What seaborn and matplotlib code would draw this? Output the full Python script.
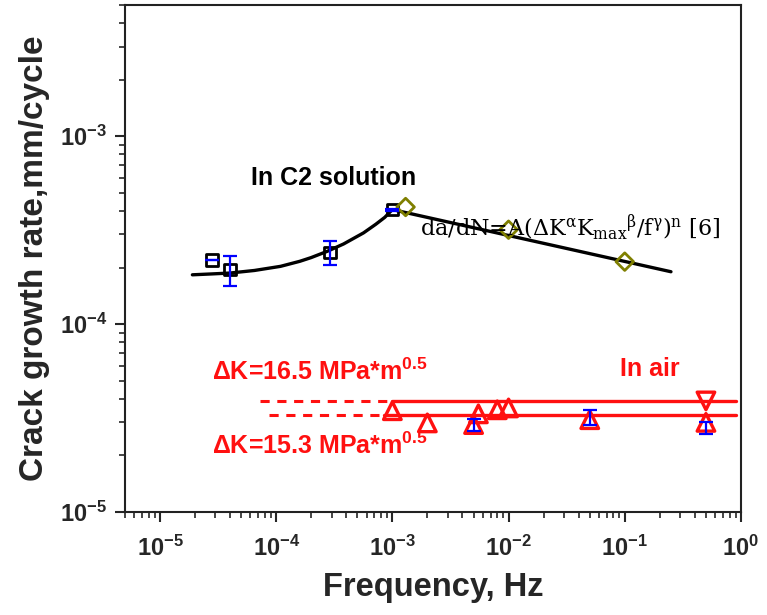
import numpy as np
import pandas as pd
import matplotlib
matplotlib.use("Agg")
import matplotlib.pyplot as plt
import seaborn as sns
from matplotlib.ticker import LogLocator, FuncFormatter, NullFormatter

# ---------------- data ----------------
# In C2 solution: squares (low frequency)
sq_f = [2.8e-5, 4.0e-5, 2.9e-4, 1.0e-3]
sq_r = [2.2e-4, 1.95e-4, 2.4e-4, 4.07e-4]
sq_err_lo = [0.0, 0.35e-4, 0.33e-4, 0.05e-4]
sq_err_hi = [0.0, 0.36e-4, 0.38e-4, 0.05e-4]

# In C2 solution: diamonds (high frequency)
dm_f = [1.3e-3, 1.0e-2, 1.0e-1]
dm_r = [4.2e-4, 3.18e-4, 2.15e-4]

# fitted curve da/dN=A(...)
fit_f = [1.9e-5, 2.8e-5, 4.0e-5, 6.5e-5, 1.09e-4, 1.6e-4, 2.0e-4, 2.75e-4,
         3.8e-4, 5.65e-4, 7.2e-4, 8.6e-4, 1.0e-3, 0.25]
fit_r = [1.83e-4, 1.85e-4, 1.87e-4, 1.93e-4, 2.03e-4, 2.16e-4, 2.26e-4, 2.44e-4,
         2.67e-4, 3.06e-4, 3.4e-4, 3.7e-4, 4.07e-4, 1.9e-4]

# In air: up triangles
tri_f = [1.0e-3, 2.0e-3, 5.0e-3, 5.5e-3, 8.0e-3, 1.0e-2, 5.0e-2, 0.5]
tri_r = [3.46e-5, 2.98e-5, 2.92e-5, 3.33e-5, 3.5e-5, 3.58e-5, 3.1e-5, 3.0e-5]

# In air: down triangle
dtri_f = [0.5]
dtri_r = [3.9e-5]

# error bars in air
air_err_f = [5.0e-3, 5.0e-2, 0.5]
air_err_r = [2.92e-5, 3.1e-5, 3.0e-5]
air_err_lo = [0.22e-5, 0.2e-5, 0.4e-5]
air_err_hi = [0.22e-5, 0.4e-5, 0.0]

# air reference lines (dK=16.5 upper, dK=15.3 lower)
up_solid_f = [1.0e-3, 0.9]
up_r = 3.88e-5
up_dash_f = [7.3e-5, 1.0e-3]
lo_solid_f = [8.4e-4, 0.9]
lo_r = 3.27e-5
lo_dash_f = [8.6e-5, 8.4e-4]

x_ticks = [1e-5, 1e-4, 1e-3, 1e-2, 1e-1, 1e0]
y_ticks = [1e-5, 1e-4, 1e-3]

# ---------------- style ----------------
sns.set_style("ticks")
plt.rcParams["font.family"] = ["Liberation Sans", "DejaVu Sans"]
plt.rcParams["mathtext.fontset"] = "custom"
plt.rcParams["mathtext.rm"] = "Liberation Sans:bold"
plt.rcParams["mathtext.bf"] = "Liberation Sans:bold"
plt.rcParams["mathtext.it"] = "Liberation Sans:bold"
plt.rcParams["mathtext.default"] = "bf"

RED = "#ff1010"
BLUE = "#0000ff"
OLIVE = "#7f7f00"

fig = plt.figure(figsize=(7.67, 6.15), dpi=100)
ax = fig.add_axes([0.163, 0.1675, 0.803, 0.8245])
ax.set_xscale("log")
ax.set_yscale("log")

# fitted curve
sns.lineplot(x=fit_f, y=fit_r, ax=ax, color="black", lw=2.4, sort=False, zorder=2)

# air lines
sns.lineplot(x=up_solid_f, y=[up_r, up_r], ax=ax, color=RED, lw=2.4, zorder=2)
sns.lineplot(x=lo_solid_f, y=[lo_r, lo_r], ax=ax, color=RED, lw=2.4, zorder=2)
sns.lineplot(x=up_dash_f, y=[up_r, up_r], ax=ax, color=RED, lw=2.2, ls=(0, (3, 2.5)), zorder=2)
sns.lineplot(x=lo_dash_f, y=[lo_r, lo_r], ax=ax, color=RED, lw=2.2, ls=(0, (3, 2.5)), zorder=2)

# markers
sns.scatterplot(x=sq_f, y=sq_r, ax=ax, marker="s", s=70, facecolor="none",
                edgecolor="black", linewidth=2.0, zorder=3)
sns.scatterplot(x=dm_f, y=dm_r, ax=ax, marker="D", s=80, facecolor="none",
                edgecolor=OLIVE, linewidth=2.0, zorder=3)
sns.scatterplot(x=tri_f, y=tri_r, ax=ax, marker="^", s=160, facecolor="none",
                edgecolor=RED, linewidth=2.4, zorder=3)
sns.scatterplot(x=dtri_f, y=dtri_r, ax=ax, marker="v", s=160, facecolor="none",
                edgecolor=RED, linewidth=2.4, zorder=3)

# error bars
ax.errorbar(sq_f, sq_r, yerr=[sq_err_lo, sq_err_hi], fmt="none", ecolor=BLUE,
            elinewidth=1.6, capsize=5, capthick=1.6, zorder=4)
ax.errorbar(air_err_f, air_err_r, yerr=[air_err_lo, air_err_hi], fmt="none", ecolor=BLUE,
            elinewidth=1.6, capsize=5, capthick=1.6, zorder=4)

# axes limits / ticks
ax.set_xlim(5e-6, 1.0)
ax.set_ylim(1e-5, 5e-3)
ax.xaxis.set_minor_locator(LogLocator(base=10, subs=np.arange(2, 10), numticks=100))
ax.yaxis.set_minor_locator(LogLocator(base=10, subs=np.arange(2, 10), numticks=100))
ax.set_xticks(x_ticks)
ax.set_yticks(y_ticks)
fmt = FuncFormatter(lambda v, p: r"$\mathbf{10^{%d}}$" % int(round(np.log10(v))))
ax.xaxis.set_major_formatter(fmt)
ax.yaxis.set_major_formatter(fmt)
ax.xaxis.set_minor_formatter(NullFormatter())
ax.yaxis.set_minor_formatter(NullFormatter())
ax.tick_params(axis="both", which="major", direction="out", length=7, width=1.5,
               labelsize=17, pad=6)
ax.tick_params(axis="x", which="major", pad=10)
ax.tick_params(axis="both", which="minor", direction="out", length=4, width=1.2)
ax.tick_params(top=False, right=False, which="both")
for sp in ax.spines.values():
    sp.set_visible(True)
    sp.set_linewidth(1.5)
    sp.set_color("#222222")

ax.set_xlabel("Frequency, Hz", fontsize=23.5, fontweight="bold", labelpad=8)
ax.set_ylabel("Crack growth rate,mm/cycle", fontsize=24, fontweight="bold", labelpad=7)

# annotations
ax.text(0.338, 0.659, "In C2 solution", transform=ax.transAxes, fontsize=18,
        fontweight="bold", ha="center", va="center", color="black")
ax.text(0.479, 0.562,
        r"da/dN=A(ΔK$^{\mathrm{\alpha}}$K$_{\mathrm{max}}{}^{\mathrm{\beta}}$/f$^{\mathrm{\gamma}}$)$^{\mathrm{n}}$ [6]",
        transform=ax.transAxes, fontsize=16, family=["DejaVu Serif"],
        math_fontfamily="dejavuserif", ha="left", va="center", color="black")
ax.text(0.142, 0.276, r"ΔK=16.5 MPa*m${}^{0.5}$", transform=ax.transAxes, fontsize=18,
        fontweight="bold", ha="left", va="center", color=RED)
ax.text(0.142, 0.130, r"ΔK=15.3 MPa*m${}^{0.5}$", transform=ax.transAxes, fontsize=18,
        fontweight="bold", ha="left", va="center", color=RED)
ax.text(0.852, 0.282, "In air", transform=ax.transAxes, fontsize=18,
        fontweight="bold", ha="center", va="center", color=RED)

fig.savefig("out.png", dpi=100)
